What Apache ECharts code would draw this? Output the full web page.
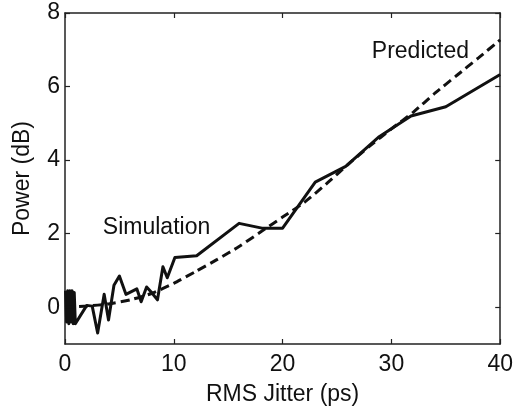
<!DOCTYPE html>
<html lang="en">
<head>
    <meta charset="UTF-8">
    <title>Power vs RMS Jitter</title>
    <script src="https://cdn.jsdelivr.net/npm/echarts@6/dist/echarts.min.js"></script>
    <style>
        html, body { margin: 0; padding: 0; background: #fff; }
    </style>
</head>
<body>
<div id="chart" style="width:516px;height:411px;"></div>
<script>
    // simulation curve
    var simX = [0.05, 0.15, 0.25, 0.35, 0.45, 0.55, 0.65, 0.75, 0.85, 0.95, 1.1,
                2.0, 2.5, 3.0, 3.6, 4.0, 4.5, 5.0, 5.6, 6.6, 7.0, 7.5, 7.9, 8.5, 9.0, 9.4, 10.1,
                12.1, 16.0, 18.1, 20.0, 23.0, 25.8, 28.8, 31.8, 35.0, 40.0];
    var simY = [0.45, -0.4, 0.45, -0.45, 0.45, -0.4, 0.45, -0.45, 0.4, -0.45, -0.5,
                0.05, 0.03, -0.7, 0.35, -0.35, 0.6, 0.85, 0.35, 0.5, 0.15, 0.55, 0.42, 0.2, 1.1, 0.8, 1.35,
                1.4, 2.28, 2.15, 2.15, 3.4, 3.83, 4.62, 5.2, 5.45, 6.33];

    // predicted curve
    var predX = [0, 2, 4, 6, 8, 10, 12, 14, 16, 18, 20, 22, 24, 26, 28, 30, 32, 34, 36, 38, 40];
    var predY = [0, 0.03, 0.09, 0.2, 0.38, 0.65, 0.97, 1.3, 1.65, 2.05, 2.45, 2.85, 3.35, 3.88, 4.38,
                 4.85, 5.3, 5.82, 6.3, 6.78, 7.27];

    var xTicks = [0, 10, 20, 30, 40];
    var yTicks = [0, 2, 4, 6, 8];

    var simData = [];
    for (var i = 0; i < simX.length; i++) {
        simData.push([simX[i], simY[i]]);
    }
    var predData = [];
    for (var j = 0; j < predX.length; j++) {
        predData.push([predX[j], predY[j]]);
    }

    var font = 'Liberation Sans, Arial, Helvetica, sans-serif';
    var axisCol = '#222';
    var boxLine = { show: true, onZero: false, lineStyle: { color: axisCol, width: 1.5 } };
    var tickStyle = { color: axisCol, width: 1.2 };

    var myChart = echarts.init(document.getElementById('chart'));

    var option = {
        animation: false,
        backgroundColor: '#fff',
        grid: { left: 65, right: 14, top: 13, bottom: 65, containLabel: false },
        xAxis: [{
            type: 'value',
            min: 0, max: 40, interval: 10,
            name: 'RMS Jitter (ps)',
            nameLocation: 'middle',
            nameGap: 39,
            nameTextStyle: { fontFamily: font, fontSize: 23, color: '#111' },
            axisLine: boxLine,
            axisTick: { show: true, inside: true, length: 5, lineStyle: tickStyle, customValues: xTicks },
            splitLine: { show: false },
            axisLabel: { margin: 9, fontFamily: font, fontSize: 23, color: '#111', customValues: xTicks }
        }, {
            type: 'value', position: 'top',
            min: 0, max: 40, interval: 10,
            axisLine: boxLine,
            axisTick: { show: true, inside: true, length: 5, lineStyle: tickStyle, customValues: xTicks },
            axisLabel: { show: false }, splitLine: { show: false }
        }],
        yAxis: [{
            type: 'value',
            min: -1, max: 8, interval: 1,
            name: 'Power (dB)',
            nameLocation: 'middle',
            nameGap: 31,
            nameTextStyle: { fontFamily: font, fontSize: 23, color: '#111' },
            axisLine: boxLine,
            axisTick: { show: true, inside: true, length: 5, lineStyle: tickStyle, customValues: yTicks },
            splitLine: { show: false },
            axisLabel: { margin: 5, fontFamily: font, fontSize: 23, color: '#111', customValues: yTicks }
        }, {
            type: 'value', position: 'right',
            min: -1, max: 8, interval: 1,
            axisLine: boxLine,
            axisTick: { show: true, inside: true, length: 5, lineStyle: tickStyle, customValues: yTicks },
            axisLabel: { show: false }, splitLine: { show: false }
        }],
        series: [{
            name: 'Simulation',
            type: 'line',
            data: simData,
            symbol: 'none',
            lineStyle: { color: '#111', width: 3, join: 'round' }
        }, {
            name: 'Predicted',
            type: 'line',
            data: predData,
            symbol: 'none',
            smooth: 0.2,
            lineStyle: { color: '#111', width: 3, type: [9, 5] }
        }]
    };

    myChart.setOption(option);

    // curve labels placed in data coordinates
    var pSim = myChart.convertToPixel({ gridIndex: 0 }, [3.48, 2.16]);
    var pPred = myChart.convertToPixel({ gridIndex: 0 }, [28.2, 6.96]);
    myChart.setOption({
        graphic: [{
            type: 'text', x: pSim[0], y: pSim[1],
            style: { text: 'Simulation', font: '23px ' + font, fill: '#111', verticalAlign: 'middle' }
        }, {
            type: 'text', x: pPred[0], y: pPred[1],
            style: { text: 'Predicted', font: '23px ' + font, fill: '#111', verticalAlign: 'middle' }
        }]
    });
</script>
</body>
</html>
